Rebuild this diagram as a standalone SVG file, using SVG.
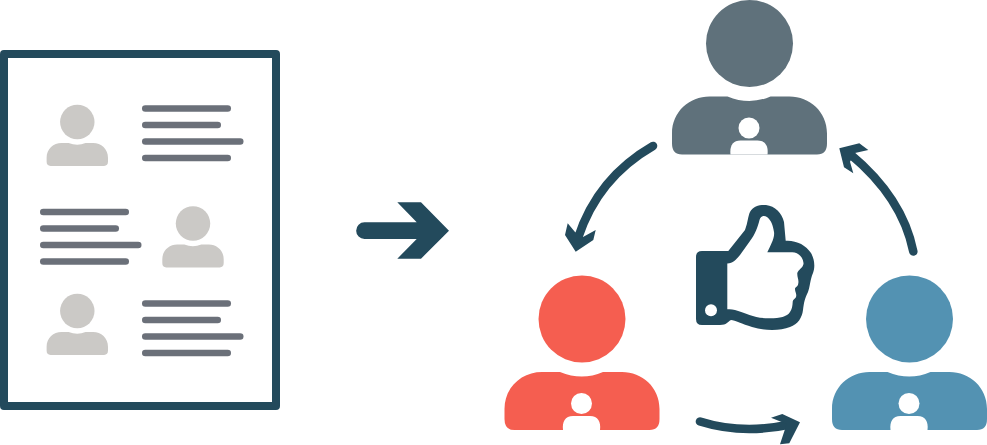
<svg xmlns="http://www.w3.org/2000/svg" width="987" height="445" viewBox="0 0 987 445">
<style>
.dark{fill:#234a5c}
.curve{fill:none;stroke:#234a5c;stroke-width:8.6;stroke-linecap:round}
.txt{stroke:#6b7079;stroke-width:6.6;stroke-linecap:round}
.light{fill:#cbc9c6}
.white{fill:#fff}
</style>
<defs>
<g id="person">
<circle cx="0" cy="0" r="43.5"/>
<path d="M-67.5 111Q-77.5 111-77.5 100V90C-77.5 68-60 53-40 53H-22Q0 62 21 53H40C60 53 77.5 68 77.5 90V100Q77.5 111 67.5 111Z"/>
</g>
<g id="mini" class="white">
<circle cx="-.5" cy="84.5" r="10.5"/>
<path d="M-19 111C-20 103-17 97-9 97H8C16 97 19 103 18 111Z"/>
</g>
<g id="lines">
<line x1="3.3" y1="0" x2="85.7" y2="0"/>
<line x1="3.3" y1="16.5" x2="75.7" y2="16.5"/>
<line x1="3.3" y1="33" x2="98.2" y2="33"/>
<line x1="3.3" y1="49.5" x2="85.7" y2="49.5"/>
</g>
</defs>
<g id="document">
<rect x="4" y="54" width="272" height="352" fill="#fff" stroke="#234a5c" stroke-width="8" stroke-linejoin="round"/>
<use href="#person" class="light" transform="translate(77.3 122) scale(.396)"/>
<use href="#lines" class="txt" transform="translate(142 108.5)"/>
<use href="#lines" class="txt" transform="translate(40 212)"/>
<use href="#person" class="light" transform="translate(193 223.5) scale(.396)"/>
<use href="#person" class="light" transform="translate(77.3 311) scale(.396)"/>
<use href="#lines" class="txt" transform="translate(142 303.5)"/>
</g>
<g id="big-arrow">
<path class="dark" d="M397.3 202.3H421L449 230.7 421 258.7H397.3L416.7 239H364.5A8.35 8.35 0 0 1 364.5 222.3H416.7Z"/>
</g>
<g id="person-top">
<use href="#person" fill="#5f717b" transform="translate(749.5 43.5)"/>
<use href="#mini" transform="translate(749.5 43.5)"/>
</g>
<g id="person-left">
<use href="#person" fill="#f55e50" transform="translate(582 319)"/>
<use href="#mini" transform="translate(582 319)"/>
</g>
<g id="person-right">
<use href="#person" fill="#5392b2" transform="translate(909.5 319)"/>
<use href="#mini" transform="translate(909.5 319)"/>
</g>
<g id="thumb">
<path class="dark" fill-rule="evenodd" d="M702 251H728.3L745 230C748 222 748 216 750 212C753 206 760 204.5 766 205C775 206 782 213 784 222L785.7 240.7C796 240 806 245 811 253C815 260 815 268 813 273C810 280 810 287 808 292C805 298 804 302 803 310C802 318 798 324 790 327C780 331 765 331 752 327C742 324 735 320 731 320C727 322 727 325 720 325H702Q696 325 696 319V257Q696 251 702 251ZM727.3 263.5C733 263 736 260 740 255L750 241C755 235 758 226 759.5 220C760.5 216 764 215 767 217C771 220 773 225 774 232C775 238 770 246 767.3 252.3H791.7C798 252 803 257 803.5 263C804 267 798 270 797.3 273C797 277 799 280 798.3 283.3C798 287 795 287 795 289C795 292 797 294 796 297C795 299 793 299 792.7 302C792.5 306 792 309 790 312C787 317 780 318 770 318.3C755 318.5 748 314 735 310C732 309 729 309 727.3 309.3Z"/>
<circle class="white" cx="711" cy="310.3" r="6"/>
</g>
<g id="connectors">
<path class="curve" d="M653 146C620 165 592 195 578 238"/>
<path class="dark" d="M575.7 251.7L565 235 567.7 223.3 575 232 583 237 595.7 230 593.3 240Z"/>
<path class="curve" d="M700 421.5C727 430 755 432 790 424.5"/>
<path class="dark" d="M800 422.3L782.3 414 771 417.7 786.7 424 780 444.3 789.3 443.3Z"/>
<path class="curve" d="M913.3 251.5C906 215 885 183 850 154"/>
<path class="dark" d="M839.3 148.3L859.3 143.3 868.3 150 855 153 850 161.7 853.3 173.3 844 167.3Z"/>
</g>
</svg>
